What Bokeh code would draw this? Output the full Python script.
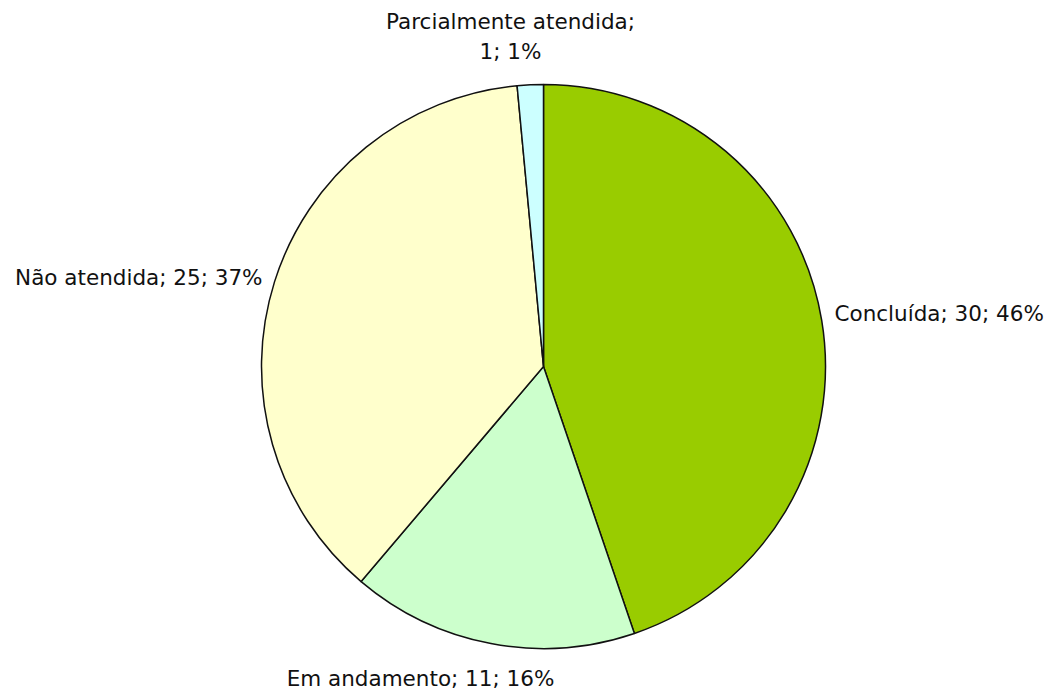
import math
from bokeh.plotting import figure
from bokeh.models import ColumnDataSource
from bokeh.core.properties import value
from bokeh.embed import file_html
from bokeh.resources import INLINE

# ---- data ----
categories = ["Concluída", "Em andamento", "Não atendida", "Parcialmente atendida"]
counts = [30, 11, 25, 1]
pct_labels = ["46%", "16%", "37%", "1%"]
colors = ["#99CC00", "#CCFFCC", "#FFFFCC", "#CCFFFF"]

# ---- layout ----
W, H = 1050, 694
cx, cy, R = 543, 328, 282
# label offsets from the pie centre (pixels) and alignment
label_layout = {
    "Concluída": (291, 53, "left"),
    "Em andamento": (-123, -312, "center"),
    "Não atendida": (-281, 89, "right"),
    "Parcialmente atendida": (-33, 330, "center"),
}

total = sum(counts)
starts, ends = [], []
a = math.pi / 2
for c in counts:
    starts.append(a)
    a = a - 2 * math.pi * c / total
    ends.append(a)

src = ColumnDataSource(dict(x=[cx] * len(counts), y=[cy] * len(counts),
                            start=starts, end=ends, color=colors))

p = figure(width=W, height=H, x_range=(0, W), y_range=(0, H),
           output_backend="svg", toolbar_location=None, min_border=0,
           outline_line_color=None)
p.axis.visible = False
p.grid.visible = False

p.wedge(x="x", y="y", radius=R, start_angle="start", end_angle="end",
        direction="clock", fill_color="color", line_color="#111111",
        line_width=1.5, source=src)

for cat, n, pc in zip(categories, counts, pct_labels):
    dx, dy, align = label_layout[cat]
    if cat == "Parcialmente atendida":
        txt = f"{cat};\n{n}; {pc}"
    else:
        txt = f"{cat}; {n}; {pc}"
    p.text(x=[cx + dx], y=[cy + dy], text=[txt], text_align=align,
           text_baseline="middle", text_font=value("DejaVu Sans"),
           text_font_size="21.5px", text_color="#111111",
           text_line_height=1.2)

open("out.html", "w").write(file_html(p, INLINE))
